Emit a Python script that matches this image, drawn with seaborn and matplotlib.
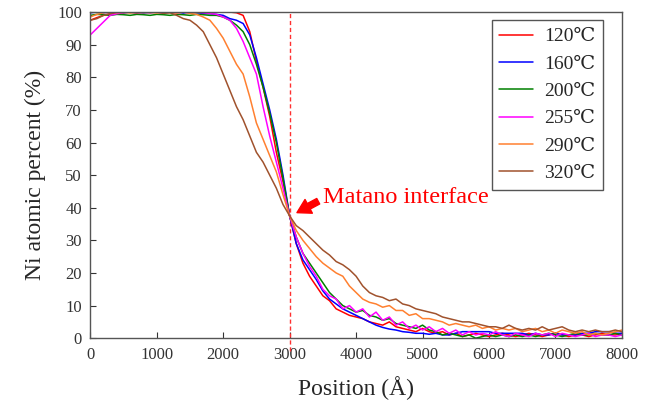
import numpy as np
import pandas as pd
import seaborn as sns
import matplotlib.pyplot as plt

# Ni depth profiles, one value per 100 A from 0 to 8000 A
position = list(range(0, 8001, 100))

ni_120 = [97.5, 98.3, 99.0, 99.5, 99.8,
          100, 100, 100, 100, 100, 100, 100, 100, 100, 100, 100, 100, 100, 100, 100, 100, 100,
          99.8, 99, 94, 85, 77, 68, 57, 48, 37.5, 29, 23, 19, 16, 13, 11.5, 9, 8, 7,
          6.5, 6, 5, 4.5, 4, 5, 3.5, 3, 2.5, 2, 3, 2, 1.5, 2, 1, 1.5, 0.5, 1, 1.5, 1,
          0.5, 1, 1.5, 1, 0.5, 1, 1.5, 1, 0.5, 1, 1.5, 1, 0.5, 1, 1, 0.5, 1, 1.5, 1, 1, 1.5]

ni_160 = [99.8, 100, 99.8, 100, 100, 99.8, 100, 100, 99.7, 100, 100, 99.8, 100, 100, 99.7, 100,
          99.8, 99.6, 99.5, 99.3, 99, 98, 97.5, 96.5, 93, 86, 78, 70, 61, 50, 37.5,
          29, 24, 21, 18, 14.5, 12, 10.5, 9, 8, 7, 6, 5, 4, 3.3, 2.8, 2.5, 2, 1.8, 1.5,
          1.5, 1.2, 1.5, 1, 1, 1.5, 2, 2, 2, 2, 2, 1.5, 1.5, 1.5, 1.5, 1.5, 1, 1.5, 1, 1,
          1.5, 1, 1, 1, 1.5, 1.5, 2, 2, 2, 1.5, 1.5]

ni_200 = [99, 99.3, 99.2, 99, 99.3, 99.2, 99, 99.3, 99.2, 99, 99.3, 99.2, 99, 99.3, 99.2, 99,
          99.3, 99.2, 99, 99, 98.5, 97.5, 96, 94, 90, 84, 77, 69, 60, 49, 37.5,
          31, 26, 23, 20, 17, 14, 12, 10, 9, 8, 8.5, 7, 6.5, 5.5, 6, 4.5, 4, 3.5, 3,
          4, 2.5, 2, 1, 1.5, 1, 0.5, 1, 0, 0.5, 1, 0.5, 1, 0.5, 1, 0.5, 1, 0.5, 1, 1.5,
          1, 0.5, 1, 1.5, 1, 1, 1.5, 1, 1, 1.5, 1]

ni_255 = [93, 95, 97, 99, 99.5, 99.8, 100, 99.7, 100, 99.8, 100, 99.7, 100, 99.8, 100, 99.7,
          100, 99.8, 99.6, 99.3, 98.5, 97.5, 95, 91, 86, 81, 71, 62, 54, 46, 37.5,
          31, 26, 22, 19, 15, 13, 12, 9, 10, 8, 9, 6.5, 8, 5.5, 6.5, 4, 5, 3, 4,
          2.5, 3.5, 2, 3, 1.5, 2.5, 1, 2, 1, 1.5, 1, 2, 1, 0.5, 1.5, 1, 0.5, 1.5, 1, 1.5,
          0.5, 1.5, 1, 0.5, 1, 1.5, 0.5, 1, 1, 0.5, 1]

ni_290 = [98.5, 99.3, 99.8, 100, 99.8, 100, 99.7, 100, 99.8, 100, 99.7, 100, 99.8, 99.7, 100,
          99.6, 99.3, 98.5, 97.5, 95, 92, 88, 84, 81, 74, 66, 61, 56, 51, 44, 37.5,
          33, 30, 27.5, 25, 23, 21.5, 20, 19, 16, 14, 12, 11, 10.5, 9.5, 10, 8.5, 8.5, 7, 7.5,
          6, 6, 5.5, 5, 4, 4.5, 4, 3.5, 4, 3, 3.5, 2.5, 3, 2.5, 3, 2, 2.5, 3, 2, 2.5,
          1.5, 2.5, 2, 1.5, 2, 1, 1.5, 1, 1.5, 2, 2.5]

ni_320 = [97.5, 98, 99, 99.5, 100, 99.8, 100, 99.7, 100, 99.8, 100, 99.6, 99.8, 99, 98, 97.5,
          96, 94, 90, 86, 81, 76, 71, 67, 62, 57, 54, 50, 46, 41, 37.5,
          34.5, 33, 31, 29, 27, 25.5, 23.5, 22.5, 21, 19, 16, 14, 13, 12.5, 11.5, 12, 10.5, 10, 9,
          8.5, 8, 7.5, 6.5, 6, 5.5, 5, 5, 4.5, 4, 3.5, 3.5, 3, 4, 3, 2.5, 3, 2.5, 3.5, 2.5,
          3, 3.5, 2.5, 2, 2.5, 2, 2.5, 2, 2, 2.5, 2]

temps = ['120℃', '160℃', '200℃', '255℃', '290℃', '320℃']
profiles = [ni_120, ni_160, ni_200, ni_255, ni_290, ni_320]
colors = ['#ff0000', '#0000ff', '#008000', '#ff00ff', '#ff8030', '#a0522d']

matano_x = 3000
matano_label = 'Matano interface'

# Long format for seaborn
df = pd.concat([pd.DataFrame({'Position': position, 'Ni': p, 'Temp': t})
                for t, p in zip(temps, profiles)], ignore_index=True)

sns.set_style('ticks')
plt.rcParams['font.family'] = ['Liberation Serif', 'DejaVu Serif']

fig = plt.figure(figsize=(6.54, 4.17), dpi=100)
ax = fig.add_axes([0.138, 0.189, 0.813, 0.782])

sns.lineplot(data=df, x='Position', y='Ni', hue='Temp', hue_order=temps,
             palette=dict(zip(temps, colors)), estimator=None, linewidth=1.1, ax=ax)

ax.axvline(matano_x, ymin=-0.04, ymax=1, color='#ff3030', linestyle=(0, (3, 2)),
           linewidth=1.0, clip_on=False, zorder=1)

# label and a separate short thick arrow pointing at the crossing point
ax.text(matano_x + 500, 43, matano_label, color='#ff0000', fontsize=17.5,
        va='center', ha='left')
ax.annotate('', xy=(matano_x + 110, 38.5), xytext=(matano_x + 430, 42.0),
            arrowprops=dict(arrowstyle='simple,head_length=0.6,head_width=0.7,tail_width=0.28',
                            color='#ff0000', shrinkA=0, shrinkB=0, mutation_scale=16))

ax.set_xlim(0, 8000)
ax.set_ylim(0, 100)
ax.set_xticks(range(0, 8001, 1000))
ax.set_yticks(range(0, 101, 10))
ax.tick_params(direction='in', length=4, labelsize=12, colors='#333333', pad=6)
ax.set_xlabel('Position (Å)', fontsize=17, labelpad=10)
ax.set_ylabel('Ni atomic percent (%)', fontsize=17, labelpad=8)
for s in ax.spines.values():
    s.set_visible(True)
    s.set_color('#555555')
    s.set_linewidth(1.0)

leg = ax.legend(loc='upper right', bbox_to_anchor=(0.965, 0.976), borderaxespad=0,
                fontsize=14, handlelength=1.7, handletextpad=0.6, labelspacing=0.5,
                fancybox=False, edgecolor='#555555', framealpha=1, title=None)
leg.get_frame().set_linewidth(1.0)

fig.savefig('out.png', dpi=100)
